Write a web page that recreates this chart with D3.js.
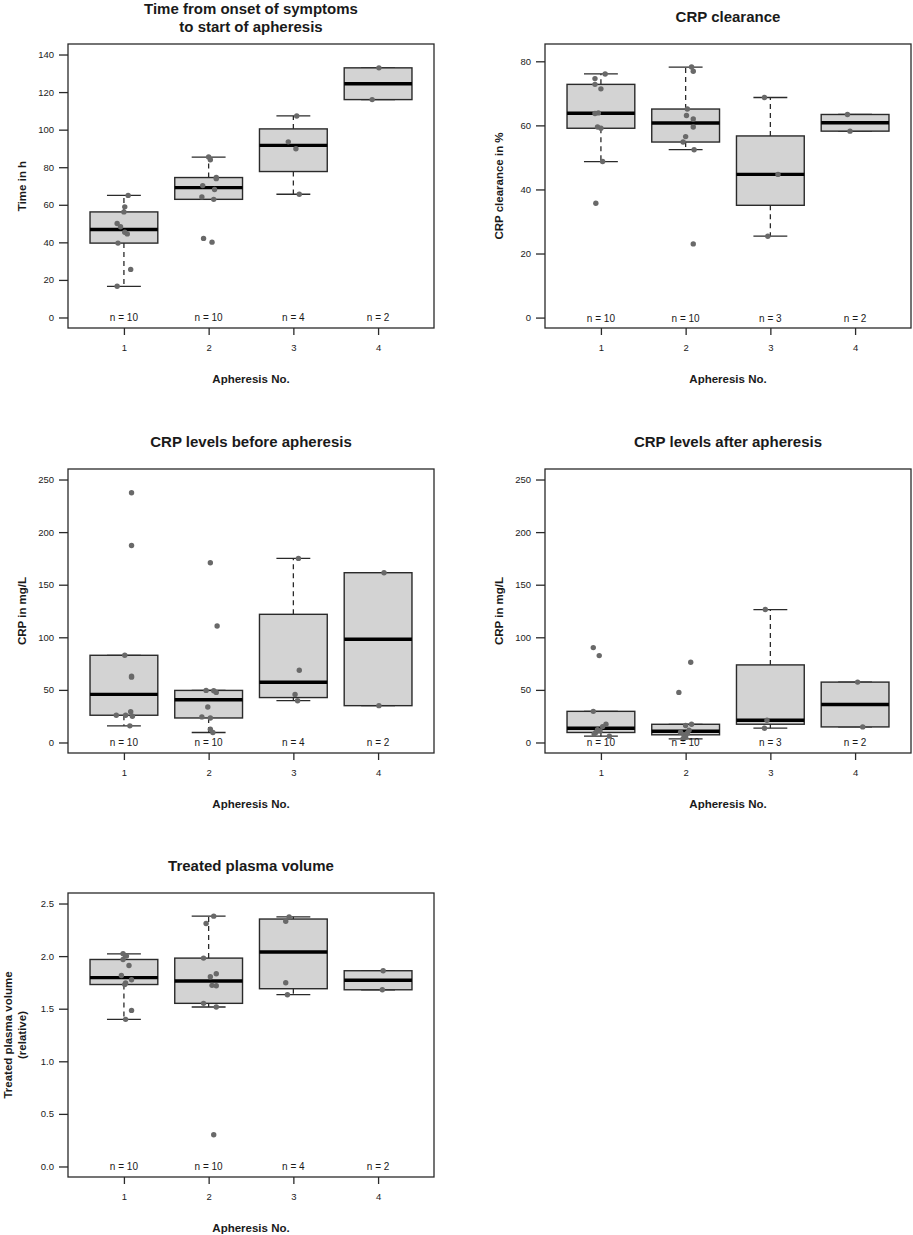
<!DOCTYPE html>
<html>
<head>
<meta charset="utf-8">
<script src="https://cdn.jsdelivr.net/npm/d3@7"></script>
<style>
  html, body { margin: 0; padding: 0; background: #fff; }
  svg text { font-family: "Liberation Sans", Arial, Helvetica, sans-serif; fill: #1a1a1a; }
</style>
</head>
<body>
<svg id="chart" width="913" height="1235"></svg>
<script>
// ---------------- DATA ----------------
const categories = [1, 2, 3, 4];

// Time from onset of symptoms to start of apheresis (h)
const timeOnset = [
  [65.0, 58.9, 56.2, 50.0, 48.3, 45.4, 44.5, 39.6, 25.6, 16.6],
  [85.4, 84.0, 74.5, 73.9, 70.2, 68.1, 64.2, 62.9, 42.1, 40.1],
  [107.3, 93.5, 89.8, 65.6],
  [132.9, 116.0]
];
const timeOnsetX = [
  [1.05, 1.01, 1.00, 0.92, 0.96, 1.01, 1.04, 0.93, 1.08, 0.92],
  [2.00, 2.02, 2.09, 2.09, 1.93, 2.07, 1.92, 2.06, 1.94, 2.04],
  [3.04, 2.94, 3.03, 3.07],
  [4.01, 3.93]
];
const timeTicks = [0, 20, 40, 60, 80, 100, 120, 140];
const timeLim = [-5.6, 145.6];

// CRP clearance (%)
const crpClear = [
  [76.05, 74.6, 72.8, 71.4, 63.9, 63.7, 59.5, 59.1, 48.7, 35.7],
  [78.2, 76.9, 65.1, 63.1, 62.0, 59.5, 56.5, 54.8, 52.4, 23.0],
  [68.7, 44.7, 25.4],
  [63.4, 58.2]
];
const crpClearX = [
  [1.05, 0.93, 0.93, 1.00, 0.97, 0.93, 0.96, 1.00, 1.02, 0.94],
  [2.07, 2.09, 2.02, 2.01, 2.09, 2.09, 2.00, 1.97, 2.10, 2.09],
  [2.93, 3.09, 2.97],
  [3.91, 3.94]
];
const crpClearTicks = [0, 20, 40, 60, 80];
const crpClearLim = [-3.25, 85.4];

// CRP before apheresis (mg/L)
const crpBefore = [
  [237.4, 187.3, 82.9, 63.1, 62.1, 29.3, 25.9, 25.9, 24.9, 15.8],
  [170.9, 110.7, 49.5, 49.2, 47.6, 33.7, 24.3, 23.3, 12.6, 9.5],
  [175.0, 68.7, 45.7, 39.7],
  [161.4, 35.0]
];
const crpBeforeX = [
  [1.09, 1.09, 1.01, 1.09, 1.09, 1.08, 0.91, 1.02, 1.10, 1.07],
  [2.02, 2.10, 1.97, 2.06, 2.09, 1.99, 1.92, 2.02, 2.02, 2.05],
  [3.06, 3.07, 3.02, 3.05],
  [4.07, 4.01]
];
const crpTicks = [0, 50, 100, 150, 200, 250];
const crpLim = [-10, 260];

// CRP after apheresis (mg/L)
const crpAfter = [
  [90.2, 82.6, 29.6, 17.3, 15.1, 12.1, 11.0, 9.5, 8.0, 6.0],
  [76.3, 47.6, 17.3, 16.1, 11.6, 9.8, 8.8, 7.3, 5.0, 3.5],
  [126.4, 21.1, 13.6],
  [57.4, 14.8]
];
const crpAfterX = [
  [0.91, 0.98, 0.91, 1.06, 1.02, 0.96, 0.99, 0.94, 0.92, 1.10],
  [2.06, 1.92, 2.07, 2.00, 2.04, 1.94, 2.02, 1.98, 2.00, 1.97],
  [2.94, 2.96, 2.93],
  [4.03, 4.09]
];

// Treated plasma volume (relative)
const plasmaVol = [
  [2.022, 2.000, 1.968, 1.911, 1.816, 1.775, 1.745, 1.730, 1.484, 1.399],
  [2.380, 2.310, 1.981, 1.832, 1.804, 1.722, 1.718, 1.551, 1.516, 0.301],
  [2.373, 2.332, 1.747, 1.633],
  [1.861, 1.680]
];
const plasmaVolX = [
  [0.99, 1.03, 0.99, 1.06, 0.97, 1.09, 1.02, 1.01, 1.09, 1.02],
  [2.06, 1.97, 1.94, 2.09, 2.02, 2.04, 2.09, 1.94, 2.09, 2.06],
  [2.95, 2.91, 2.91, 2.93],
  [4.06, 4.05]
];
const plasmaTicks = [0, 0.5, 1.0, 1.5, 2.0, 2.5];
const plasmaLim = [-0.1, 2.6];

const xLabel = "Apheresis No.";

// ---------------- LAYOUT ----------------
const W = 366, H = 284;
const panels = [
  { title: ["Time from onset of symptoms", "to start of apheresis"], ylab: ["Time in h"],
    vals: timeOnset, xs: timeOnsetX, ticks: timeTicks, lim: timeLim, fmt: d3.format("d"), left: 68, top: 44 },
  { title: ["CRP clearance"], ylab: ["CRP clearance in %"],
    vals: crpClear, xs: crpClearX, ticks: crpClearTicks, lim: crpClearLim, fmt: d3.format("d"), left: 545, top: 44 },
  { title: ["CRP levels before apheresis"], ylab: ["CRP in mg/L"],
    vals: crpBefore, xs: crpBeforeX, ticks: crpTicks, lim: crpLim, fmt: d3.format("d"), left: 68, top: 469 },
  { title: ["CRP levels after apheresis"], ylab: ["CRP in mg/L"],
    vals: crpAfter, xs: crpAfterX, ticks: crpTicks, lim: crpLim, fmt: d3.format("d"), left: 545, top: 469 },
  { title: ["Treated plasma volume"], ylab: ["Treated plasma volume", "(relative)"],
    vals: plasmaVol, xs: plasmaVolX, ticks: plasmaTicks, lim: plasmaLim, fmt: d3.format(".1f"), left: 68, top: 893 }
];

function fivenum(arr) {
  const s = arr.slice().sort((a, b) => a - b);
  const n = s.length;
  const n4 = Math.floor((n + 3) / 2) / 2;
  const d = [1, n4, (n + 1) / 2, n + 1 - n4, n];
  return d.map(v => 0.5 * (s[Math.floor(v) - 1] + s[Math.ceil(v) - 1]));
}
function boxStats(arr) {
  const f = fivenum(arr);
  const iqr = f[3] - f[1];
  const lo = f[1] - 1.5 * iqr, hi = f[3] + 1.5 * iqr;
  const inside = arr.filter(v => v >= lo && v <= hi);
  return { q1: f[1], med: f[2], q3: f[3], wlo: d3.min(inside), whi: d3.max(inside) };
}

const svg = d3.select("#chart");
svg.append("rect").attr("width", 913).attr("height", 1235).attr("fill", "#fff");

const stroke = "#2a2a2a";
const fontFam = '"Liberation Sans", Arial, sans-serif';

panels.forEach(p => {
  const g = svg.append("g").attr("transform", `translate(${p.left},${p.top})`);
  const x = d3.scaleLinear().domain([0.34, 4.66]).range([0, W]);
  const y = d3.scaleLinear().domain(p.lim).range([H, 0]);
  const bw = x(1.4) - x(1.0);   // half box width (box width 0.8)
  const cw = bw / 2;            // half staple width

  // boxes
  categories.forEach((c, i) => {
    const st = boxStats(p.vals[i]);
    const cx = x(c);
    const bg = g.append("g");
    bg.append("line").attr("x1", cx).attr("x2", cx).attr("y1", y(st.q3)).attr("y2", y(st.whi))
      .attr("stroke", stroke).attr("stroke-width", 1.3).attr("stroke-dasharray", "5,4");
    bg.append("line").attr("x1", cx).attr("x2", cx).attr("y1", y(st.q1)).attr("y2", y(st.wlo))
      .attr("stroke", stroke).attr("stroke-width", 1.3).attr("stroke-dasharray", "5,4");
    [st.whi, st.wlo].forEach(v => {
      bg.append("line").attr("x1", cx - cw).attr("x2", cx + cw).attr("y1", y(v)).attr("y2", y(v))
        .attr("stroke", stroke).attr("stroke-width", 1.3);
    });
    bg.append("rect").attr("x", cx - bw).attr("width", 2 * bw)
      .attr("y", y(st.q3)).attr("height", y(st.q1) - y(st.q3))
      .attr("fill", "#d3d3d3").attr("stroke", stroke).attr("stroke-width", 1.4);
    bg.append("line").attr("x1", cx - bw).attr("x2", cx + bw).attr("y1", y(st.med)).attr("y2", y(st.med))
      .attr("stroke", "#000").attr("stroke-width", 3.4);
  });

  // points
  categories.forEach((c, i) => {
    g.append("g").selectAll("circle").data(p.vals[i]).join("circle")
      .attr("cx", (d, j) => x(p.xs[i][j]))
      .attr("cy", d => y(d))
      .attr("r", 2.7)
      .attr("fill", "#696969");
  });

  // n labels
  categories.forEach((c, i) => {
    g.append("text").attr("x", x(c)).attr("y", y(0) + 4)
      .attr("text-anchor", "middle").attr("font-size", 10)
      .text("n = " + p.vals[i].length);
  });

  // frame
  g.append("rect").attr("width", W).attr("height", H)
    .attr("fill", "none").attr("stroke", stroke).attr("stroke-width", 1.3);

  // y axis
  const ya = g.append("g").call(d3.axisLeft(y).tickValues(p.ticks).tickFormat(p.fmt).tickSize(9).tickPadding(5));
  ya.select(".domain").remove();
  ya.selectAll("line").attr("stroke", stroke).attr("stroke-width", 1.3);
  ya.selectAll("text").attr("font-size", 9.5).attr("fill", "#1a1a1a").style("font-family", fontFam);

  // x axis
  const xa = g.append("g").attr("transform", `translate(0,${H})`)
    .call(d3.axisBottom(x).tickValues(categories).tickFormat(d3.format("d")).tickSize(7).tickPadding(9));
  xa.select(".domain").remove();
  xa.selectAll("line").attr("stroke", stroke).attr("stroke-width", 1.3);
  xa.selectAll("text").attr("font-size", 9.5).attr("fill", "#1a1a1a").style("font-family", fontFam);

  // x label
  g.append("text").attr("x", W / 2).attr("y", H + 55)
    .attr("text-anchor", "middle").attr("font-size", 11.5).attr("font-weight", "bold")
    .text(xLabel);

  // y label
  const nl = p.ylab.length;
  p.ylab.forEach((t, k) => {
    const off = -42 - (nl - 1 - k) * 14;
    g.append("text").attr("transform", `translate(${off},${H / 2}) rotate(-90)`)
      .attr("text-anchor", "middle").attr("font-size", 11.5).attr("font-weight", "bold")
      .text(t);
  });

  // title
  const nt = p.title.length;
  p.title.forEach((t, k) => {
    const yy = nt === 1 ? -22 : (k === 0 ? -30 : -12);
    g.append("text").attr("x", W / 2).attr("y", yy)
      .attr("text-anchor", "middle").attr("font-size", 15).attr("font-weight", "bold")
      .text(t);
  });
});
</script>
</body>
</html>
